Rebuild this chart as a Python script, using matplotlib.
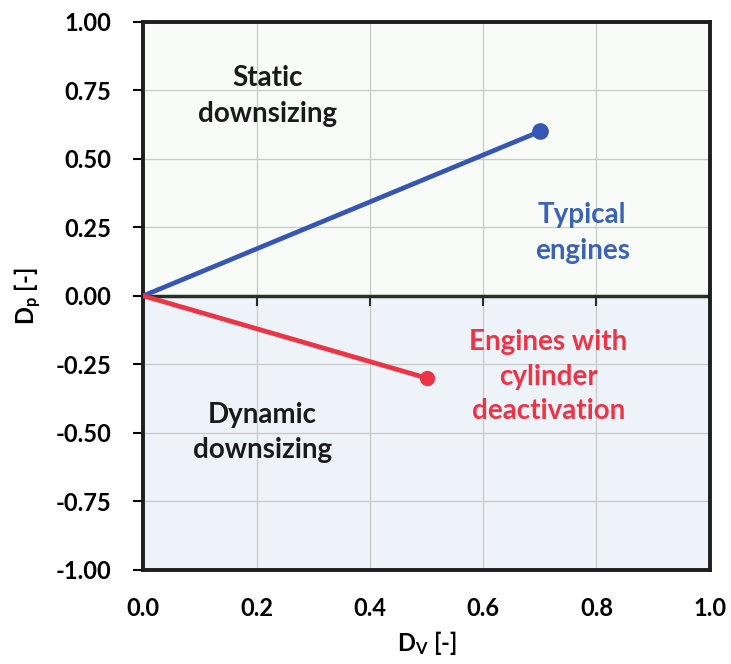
import numpy as np
import matplotlib.pyplot as plt

plt.rcParams['font.family'] = ['Lato', 'DejaVu Sans']
plt.rcParams['font.weight'] = 'bold'
plt.rcParams['mathtext.default'] = 'regular'

# data
typical_x = [0.0, 0.7]
typical_y = [0.0, 0.6]
deact_x = [0.0, 0.5]
deact_y = [0.0, -0.3]
x_ticks = [0.0, 0.2, 0.4, 0.6, 0.8, 1.0]
y_ticks = [-1.0, -0.75, -0.5, -0.25, 0.0, 0.25, 0.5, 0.75, 1.0]

blue = '#3556b4'
red = '#ee3345'

fig = plt.figure(figsize=(7.31, 6.64), dpi=100)
ax = fig.add_axes([0.196, 0.142, 0.775, 0.825])

ax.set_xlim(0, 1)
ax.set_ylim(-1, 1)
ax.set_facecolor('#f9fbf9')
ax.axhspan(-1, 0, color='#eef3f9', zorder=0)

ax.set_xticks(x_ticks)
ax.set_yticks(y_ticks)
ax.set_xticklabels(['%.1f' % v for v in x_ticks])
ax.set_yticklabels(['%.2f' % v for v in y_ticks])
ax.grid(True, color='#c9c9c9', linewidth=0.9, zorder=1)
ax.tick_params(axis='x', length=0, pad=20, labelsize=17)
ax.tick_params(axis='y', length=7, width=1.5, labelsize=17, direction='out', pad=16)

for s in ax.spines.values():
    s.set_linewidth(2.8)
    s.set_color('#1e1e1e')

# zero line with downward ticks
ax.axhline(0, color='#263026', linewidth=2.5, zorder=2)
ax.plot(x_ticks[1:-1], np.zeros(len(x_ticks) - 2), linestyle='none',
        marker=3, markersize=7, markeredgewidth=1.5, color='#263026', zorder=2)

ax.plot(typical_x, typical_y, color=blue, linewidth=3.4, zorder=3)
ax.plot(typical_x[-1], typical_y[-1], 'o', color=blue, markersize=11, zorder=4)
ax.plot(deact_x, deact_y, color=red, linewidth=3.4, zorder=3)
ax.plot(deact_x[-1], deact_y[-1], 'o', color=red, markersize=10, zorder=4)

fs = 20
ax.text(0.22, 0.73, 'Static\ndownsizing', ha='center', va='center',
        fontsize=fs, fontweight='bold', color='#1a1a1a', linespacing=1.45)
ax.text(0.21, -0.5, 'Dynamic\ndownsizing', ha='center', va='center',
        fontsize=fs, fontweight='bold', color='#1a1a1a', linespacing=1.45)
ax.text(0.775, 0.23, 'Typical\nengines', ha='center', va='center',
        fontsize=fs, fontweight='bold', color='#3a62b8', linespacing=1.45)
ax.text(0.715, -0.295, 'Engines with\ncylinder\ndeactivation', ha='center', va='center',
        fontsize=fs, fontweight='bold', color=red, linespacing=1.4)

ax.set_xlabel('D$_V$ [-]', fontsize=17, fontweight='bold', labelpad=6)
ax.set_ylabel('D$_p$ [-]', fontsize=17, fontweight='bold', labelpad=8)

fig.savefig('out.png', dpi=100)
